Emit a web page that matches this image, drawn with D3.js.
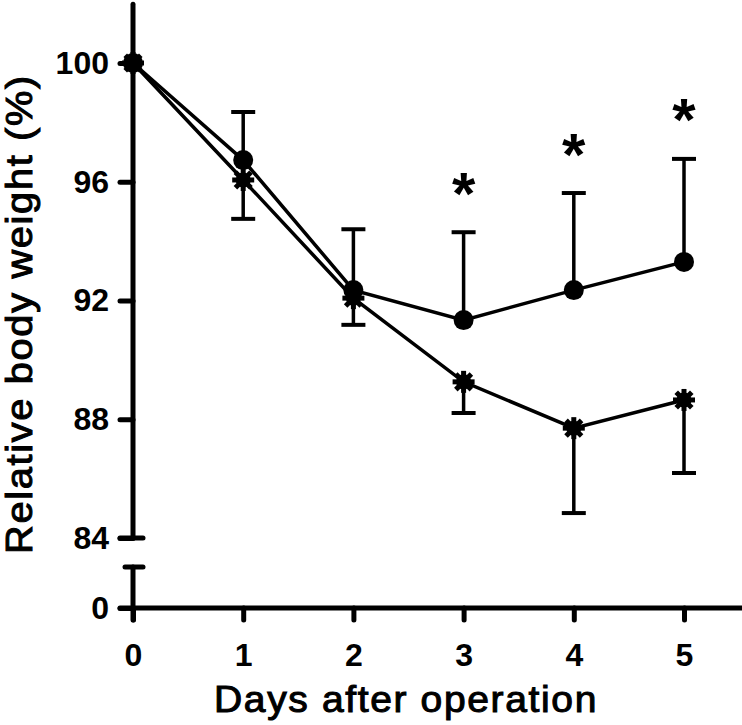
<!DOCTYPE html>
<html>
<head>
<meta charset="utf-8">
<script src="https://cdn.jsdelivr.net/npm/d3@7"></script>
<style>
  html, body { margin: 0; padding: 0; background: #fff; }
  svg { display: block; }
</style>
</head>
<body>
<svg id="chart" width="742" height="725"></svg>
<script>
// ---- data ----
const days = [0, 1, 2, 3, 4, 5];
const circleMean = [100, 96.73, 92.35, 91.34, 92.35, 93.3];
const circleErr  = [0, 1.62, 2.05, 2.96, 3.27, 3.47];
const starMean   = [100, 96.06, 92.08, 89.26, 87.7, 88.65];
const starErr    = [0, 1.31, 0.9, 1.05, 2.86, 2.46];
const significant = [false, false, false, true, true, true];
const yTicksUpper = [84, 88, 92, 96, 100];
const yTicksLower = [0];
const xTitle = "Days after operation";
const yTitle = "Relative body weight (%)";

// ---- layout ----
const svg = d3.select("#chart");
const x = d3.scaleLinear().domain([0, 5]).range([133, 684]);
const yU = d3.scaleLinear().domain([84, 100]).range([538, 63]);
const yL = d3.scaleLinear().domain([0, 1]).range([608, 567]);
const xAxisY = yL(0);
const font = "'Liberation Sans', Arial, Helvetica, sans-serif";

// axis lines
const axisG = svg.append("g").attr("stroke", "#000").attr("stroke-linecap", "round");
axisG.append("line").attr("x1", x(0)).attr("x2", x(0)).attr("y1", yU(101.98)).attr("y2", yU(84)).attr("stroke-width", 5);
axisG.append("line").attr("x1", x(0) - 13).attr("x2", x(0) + 10).attr("y1", yU(84)).attr("y2", yU(84)).attr("stroke-width", 5);
axisG.append("line").attr("x1", x(0)).attr("x2", x(0)).attr("y1", yL(1)).attr("y2", xAxisY + 12).attr("stroke-width", 5);
axisG.append("line").attr("x1", x(0) - 8).attr("x2", x(0) + 10).attr("y1", yL(1)).attr("y2", yL(1)).attr("stroke-width", 5);
axisG.append("line").attr("x1", x(0) - 13).attr("x2", x(5.52)).attr("y1", xAxisY).attr("y2", xAxisY).attr("stroke-width", 5);

function styleAxis(g) {
  g.attr("font-size", null).attr("font-family", null);
  g.select(".domain").remove();
  g.selectAll(".tick line").attr("stroke", "#000").attr("stroke-width", 5).attr("stroke-linecap", "round");
  g.selectAll(".tick text").attr("fill", "#000")
    .style("font-family", font).style("font-size", "32px").style("font-weight", "bold");
}

svg.append("g").attr("transform", `translate(${x(0)},0)`)
  .call(d3.axisLeft(yU).tickValues(yTicksUpper).tickSize(13).tickPadding(11).tickFormat(d3.format("d")))
  .call(styleAxis);
svg.append("g").attr("transform", `translate(${x(0)},0)`)
  .call(d3.axisLeft(yL).tickValues(yTicksLower).tickSize(13).tickPadding(11).tickFormat(d3.format("d")))
  .call(styleAxis);
svg.append("g").attr("transform", `translate(0,${xAxisY})`)
  .call(d3.axisBottom(x).tickValues(days).tickSize(12).tickPadding(23).tickFormat(d3.format("d")))
  .call(styleAxis);

// axis titles
svg.append("text").attr("x", 406).attr("y", 712).attr("text-anchor", "middle")
  .style("font-family", font).style("font-size", "36px").style("letter-spacing", "1.5px")
  .attr("fill", "#000").attr("stroke", "#000").attr("stroke-width", 1)
  .attr("textLength", 384).attr("lengthAdjust", "spacingAndGlyphs")
  .text(xTitle);
svg.append("text").attr("transform", "translate(32,314) rotate(-90)").attr("text-anchor", "middle")
  .style("font-family", font).style("font-size", "36px").style("letter-spacing", "1.5px")
  .attr("fill", "#000").attr("stroke", "#000").attr("stroke-width", 1)
  .attr("textLength", 480).attr("lengthAdjust", "spacingAndGlyphs")
  .text(yTitle);

// lines
const line = d3.line().x((d, i) => x(days[i])).y(d => yU(d));
svg.append("path").datum(circleMean).attr("d", line).attr("fill", "none").attr("stroke", "#000").attr("stroke-width", 3.5);
svg.append("path").datum(starMean).attr("d", line).attr("fill", "none").attr("stroke", "#000").attr("stroke-width", 3.5);

// error bars
const eb = svg.append("g").attr("stroke", "#000");
days.forEach((d, i) => {
  if (circleErr[i] > 0) {
    const top = circleMean[i] + circleErr[i];
    eb.append("line").attr("x1", x(d)).attr("x2", x(d)).attr("y1", yU(circleMean[i])).attr("y2", yU(top)).attr("stroke-width", 3.5);
    eb.append("line").attr("x1", x(d) - 12).attr("x2", x(d) + 12).attr("y1", yU(top)).attr("y2", yU(top)).attr("stroke-width", 4);
  }
  if (starErr[i] > 0) {
    const bot = starMean[i] - starErr[i];
    eb.append("line").attr("x1", x(d)).attr("x2", x(d)).attr("y1", yU(starMean[i])).attr("y2", yU(bot)).attr("stroke-width", 3.5);
    eb.append("line").attr("x1", x(d) - 12).attr("x2", x(d) + 12).attr("y1", yU(bot)).attr("y2", yU(bot)).attr("stroke-width", 4);
  }
});

// star markers (8-armed)
const sm = svg.append("g").attr("stroke", "#000").attr("stroke-width", 5);
days.forEach((d, i) => {
  const cx = x(d), cy = yU(starMean[i]);
  const g = sm.append("g").attr("transform", `translate(${cx},${cy})`);
  [0, 45, 90, 135].forEach(a => {
    g.append("line").attr("x1", -11).attr("x2", 11).attr("y1", 0).attr("y2", 0)
      .attr("transform", `rotate(${a})`);
  });
  g.append("circle").attr("r", 7.5).attr("fill", "#000").attr("stroke", "none");
});

// circle markers
svg.append("g").selectAll("circle").data(circleMean).join("circle")
  .attr("cx", (d, i) => x(days[i])).attr("cy", d => yU(d)).attr("r", 10).attr("fill", "#000");

// significance asterisks
svg.append("g").selectAll("text").data(days.filter((d, i) => significant[i])).join("text")
  .attr("x", d => x(d))
  .attr("y", d => yU(circleMean[d] + circleErr[d]) - 52 + 0.56 * 60)
  .attr("text-anchor", "middle").style("font-family", font).style("font-size", "60px").style("font-weight", "bold")
  .attr("fill", "#000").text("*");
</script>
</body>
</html>
